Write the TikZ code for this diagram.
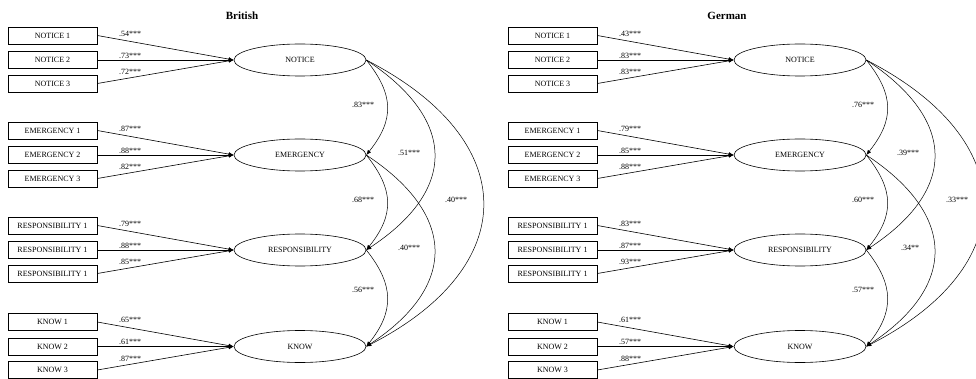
\documentclass[tikz,border=0pt]{standalone}
\usepackage{fontspec}
\setmainfont{Liberation Serif}
\usetikzlibrary{shapes.geometric,arrows.meta,calc}
\tikzset{
  obs/.style={draw,line width=0.6pt,rectangle,minimum width=89pt,minimum height=17pt,inner sep=0pt,font=\fontsize{8}{9.6}\selectfont},
  lat/.style={draw,line width=0.6pt,ellipse,minimum width=132pt,minimum height=32pt,inner sep=0pt,font=\fontsize{8}{9.6}\selectfont},
  lab/.style={inner sep=0pt,font=\fontsize{8}{9.6}\selectfont},
  ttl/.style={inner sep=0pt,font=\fontsize{11}{13}\selectfont\bfseries},
  load/.style={line width=0.6pt,-{Latex[length=5pt,width=4pt]}},
  cv/.style={line width=0.5pt,-{Latex[length=5pt,width=4pt]}}
}
\newcommand\lvgroup[9]{%
  \node[lat] (#1) at (300,#3) {#2};
  \node[obs] (#1a) at (52.5,#3-24.5) {#4};
  \node[obs] (#1b) at (52.5,#3) {#5};
  \node[obs] (#1c) at (52.5,#3+23.5) {#6};
  \draw[load] (#1a.east) -- (#1.west);
  \draw[load] (#1b.east) -- (#1.west);
  \draw[load] (#1c.east) -- (#1.west);
  \node[lab] (#1la) at (130,#3-26.5) {#7};
  \node[lab] (#1lb) at (130,#3-4.5) {#8};
  \node[lab] (#1lc) at (130,#3+12) {#9};
}
\newcommand\covar[4]{%
  \draw[cv] (#1.east) .. controls ($(#1.east)+(#3,#4)$) and ($(#2.east)+(#3,-#4)$) .. (#2.east);
}
\begin{document}
\begin{tikzpicture}[x=1pt,y=-1pt]
\useasboundingbox (0,0) rectangle (976,379);
\clip (0,0) rectangle (976,379);
% ---------------- British ----------------
\node[ttl] (btitle) at (242,16) {British};
\lvgroup{bN}{NOTICE}{60}{NOTICE 1}{NOTICE 2}{NOTICE 3}{.54***}{.73***}{.72***}
\lvgroup{bE}{EMERGENCY}{155}{EMERGENCY 1}{EMERGENCY 2}{EMERGENCY 3}{.87***}{.88***}{.82***}
\lvgroup{bR}{RESPONSIBILITY}{250}{RESPONSIBILITY 1}{RESPONSIBILITY 1}{RESPONSIBILITY 1}{.79***}{.88***}{.85***}
\lvgroup{bK}{KNOW}{346.5}{KNOW 1}{KNOW 2}{KNOW 3}{.65***}{.61***}{.87***}
\covar{bN}{bE}{28}{35}
\covar{bN}{bR}{91}{60}
\covar{bN}{bK}{156}{80}
\covar{bE}{bR}{28}{35}
\covar{bE}{bK}{91}{60}
\covar{bR}{bK}{28}{35}
\node[lab] (bc1) at (363,105) {.83***};
\node[lab] (bc2) at (409,153) {.51***};
\node[lab] (bc3) at (456,200) {.40***};
\node[lab] (bc4) at (363,200) {.68***};
\node[lab] (bc5) at (409,248) {.40***};
\node[lab] (bc6) at (363,290) {.56***};
% ---------------- German ----------------
\node[ttl] (gtitle) at (727,16) {German};
\begin{scope}[xshift=500pt]
\lvgroup{gN}{NOTICE}{60}{NOTICE 1}{NOTICE 2}{NOTICE 3}{.43***}{.83***}{.83***}
\lvgroup{gE}{EMERGENCY}{155}{EMERGENCY 1}{EMERGENCY 2}{EMERGENCY 3}{.79***}{.85***}{.88***}
\lvgroup{gR}{RESPONSIBILITY}{250}{RESPONSIBILITY 1}{RESPONSIBILITY 1}{RESPONSIBILITY 1}{.83***}{.87***}{.93***}
\lvgroup{gK}{KNOW}{346.5}{KNOW 1}{KNOW 2}{KNOW 3}{.61***}{.57***}{.88***}
\end{scope}
\covar{gN}{gE}{28}{35}
\covar{gN}{gR}{91}{60}
\covar{gN}{gK}{156}{80}
\covar{gE}{gR}{28}{35}
\covar{gE}{gK}{91}{60}
\covar{gR}{gK}{28}{35}
\node[lab] (gc1) at (863,105) {.76***};
\node[lab] (gc2) at (908,153) {.39***};
\node[lab] (gc3) at (957,200) {.33***};
\node[lab] (gc4) at (863,200) {.60***};
\node[lab] (gc5) at (910,248) {.34**};
\node[lab] (gc6) at (863,290) {.57***};
\end{tikzpicture}
\end{document}
